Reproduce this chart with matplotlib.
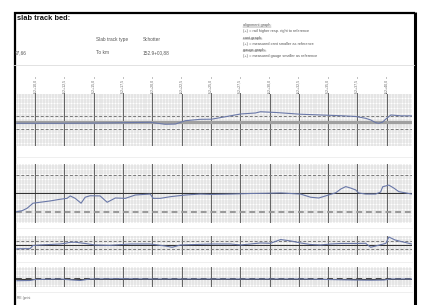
import matplotlib
matplotlib.use('Agg')
import matplotlib.pyplot as plt
from matplotlib.ticker import MultipleLocator

W, H = 422, 305
plt.rcParams['font.family'] = ['Liberation Sans', 'DejaVu Sans']

# ---------------- data ----------------
stations = list(range(13))
station_labels = ['152+10,0', '152+12,5', '152+15,0', '152+17,5', '152+20,0',
                  '152+22,5', '152+25,0', '152+27,5', '152+30,0', '152+32,5',
                  '152+35,0', '152+37,5', '152+40,0']

align_x = [-0.62, 0.85, 2.22, 3.93, 4.44, 4.79, 5.13, 5.64, 6.02, 6.5, 7.01, 7.52,
           7.69, 8.21, 9.06, 9.74, 10.43, 10.94, 11.28, 11.45, 11.62, 11.73, 11.86,
           11.97, 12.14, 12.48, 12.85]
align_y = [-0.8, -0.8, -0.6, 0.0, -1.6, -1.4, 1.3, 2.4, 2.5, 4.5, 6.7, 7.5,
           8.5, 7.9, 6.5, 5.9, 5.3, 4.7, 3.2, 1.9, -0.3, -0.8, 0.2,
           2.7, 5.9, 5.2, 5.2]

level_x = [-0.62, -0.44, -0.27, -0.07, 0.17, 0.51, 0.85, 1.09, 1.2, 1.37, 1.57, 1.71,
           1.88, 2.22, 2.46, 2.74, 3.08, 3.42, 3.93, 4.03, 4.27, 4.62, 5.13, 5.64,
           6.02, 6.67, 7.35, 7.86, 8.38, 9.06, 9.4, 9.68, 9.91, 10.26, 10.43, 10.6,
           10.77, 10.94, 11.04, 11.28, 11.62, 11.79, 11.86, 12.07, 12.24, 12.41,
           12.65, 12.85]
level_y = [-9.8, -9.3, -8.0, -5.3, -4.8, -4.1, -3.2, -2.7, -1.4, -2.7, -5.3, -2.1,
           -1.3, -1.4, -4.8, -2.5, -2.7, -0.9, -0.4, -2.7, -2.7, -1.8, -0.9, -0.4,
           -0.6, -0.4, -0.1, 0.0, 0.2, -0.4, -2.1, -2.5, -1.4, 0.3, 2.3, 3.6,
           2.8, 1.8, 0.2, -0.4, -0.4, 0.7, 3.5, 4.4, 2.8, 0.9,
           0.2, -0.4]

cant_x = [-0.62, -0.17, -0.07, 0.17, 0.85, 1.03, 1.2, 1.37, 1.71, 2.05, 2.56, 3.25,
          3.93, 4.44, 4.68, 4.96, 5.3, 6.02, 6.67, 7.01, 7.35, 7.69, 8.03, 8.38,
          8.72, 9.06, 9.4, 9.74, 10.09, 10.43, 10.94, 11.28, 11.45, 11.62, 11.97,
          12.07, 12.28, 12.48, 12.85]
cant_y = [-4.5, -4.3, -0.6, 0.0, 1.2, 2.0, 3.2, 3.3, 1.8, 0.0, -0.4, 1.2,
          1.2, -1.2, -2.7, 0.0, 0.4, 1.2, 1.2, 0.0, 1.2, 2.4, 2.0, 6.5,
          4.8, 2.4, 0.6, 0.0, 1.2, 1.8, 1.8, 2.0, -2.7, -1.2, 2.0,
          9.5, 6.0, 4.2, 1.2]

gauge_x = [-0.62, -0.17, 0.0, 0.85, 1.2, 1.54, 1.88, 2.91, 3.93, 6.02, 9.06, 10.9,
           11.45, 11.9, 12.14, 12.85]
gauge_y = [-1.7, -1.5, -0.5, 0.0, -0.8, -1.5, 0.0, 0.3, 0.0, 0.0, 0.0, -1.0,
           -1.2, -1.0, 0.0, 0.0]

bottom_note = 'RE (print'

# ---------------- figure ----------------
fig = plt.figure(figsize=(W / 100, H / 100), dpi=100)
fig.patch.set_facecolor('white')
bg = fig.add_axes([0, 0, 1, 1])
bg.set_xlim(0, W)
bg.set_ylim(H, 0)
bg.axis('off')

# border
bg.plot([14.5, 14.5], [12, 305], color='black', lw=1.6, solid_capstyle='butt')
bg.plot([14, 415], [12.5, 12.5], color='black', lw=1.6, solid_capstyle='butt')
bg.plot([414.8, 414.8], [12, 305], color='black', lw=2.2, solid_capstyle='butt')

# header texts
bg.text(17, 19.5, 'slab track bed:', fontsize=5.4, fontweight='bold', va='baseline', color='#111')
small = dict(fontsize=3.4, va='baseline', color='#555')
bg.text(96, 41, 'Slab track type', **small)
bg.text(143, 41, 'Schotter', **small)
bg.text(14.8, 54, '97,66', **small)
bg.text(96, 54, 'To km', **small)
bg.text(143, 54, '152.9+00,88', **small)

leg = dict(fontsize=2.8, va='baseline', color='#555')
heads = []
for yb, s, u in [(26, 'alignment graph:', True),
                 (32, '(+) = rail higher resp. right to reference', False),
                 (38.5, 'cant graph:', True),
                 (44.5, '(+) = measured cant smaller as reference', False),
                 (50.5, 'gauge graph:', True),
                 (56.5, '(+) = measured gauge smaller as reference', False)]:
    t = bg.text(243, yb, s, **leg)
    if u:
        heads.append((t, yb))

bg.plot([14, 414], [65, 65], color='#dddddd', lw=0.6)
for yy in [157, 228, 262, 292]:
    bg.plot([16, 412], [yy, yy], color='#ececec', lw=0.6)

bg.text(17, 299, bottom_note, fontsize=2.4, va='baseline', color='#666')

# station labels
for s, lab in zip(stations, station_labels):
    px = 35 + s * 29.25
    bg.text(px, 86.5, lab, rotation=90, fontsize=2.6, ha='center', va='center', color='#666')
    bg.plot([px, px], [76.5, 78], color='#999', lw=0.5)
    bg.plot([px, px], [92.5, 94.5], color='#666', lw=0.7)


def panel(y0, y1, ylim, ystep):
    ax = fig.add_axes([16 / W, 1 - y1 / H, (412 - 16) / W, (y1 - y0) / H])
    ax.set_xlim(-0.65, 12.86)
    ax.set_ylim(*ylim)
    ax.xaxis.set_major_locator(MultipleLocator(1))
    ax.xaxis.set_minor_locator(MultipleLocator(0.1))
    ax.yaxis.set_major_locator(MultipleLocator(ystep * 5))
    ax.yaxis.set_minor_locator(MultipleLocator(ystep))
    ax.tick_params(which='both', length=0, labelbottom=False, labelleft=False)
    ax.grid(which='both', color='#c4c4c4', lw=0.35)
    ax.set_axisbelow(True)
    for sp in ax.spines.values():
        sp.set_visible(False)
    for s in stations:
        ax.axvline(s, color='#666666', lw=0.75, zorder=2)
    return ax


line_col = '#6a78a8'
dash_col = '#7a7a7a'

# panel 1: alignment
ax1 = panel(94, 146, (-19.1, 22.8), 2.0)
ax1.axhline(0, color='#a0a0a0', lw=2.3, zorder=2)
for v in (-5, 5):
    ax1.axhline(v, color=dash_col, lw=0.7, dashes=(3, 2), zorder=3)
ax1.plot(align_x, align_y, color=line_col, lw=0.8, zorder=4)

# panel 2
ax2 = panel(164, 223, (-15.9, 15.7), 1.35)
ax2.axhline(0, color='#333333', lw=0.8, zorder=2)
ax2.axhline(10, color=dash_col, lw=0.7, dashes=(3, 2), zorder=3)
ax2.axhline(-10, color='#999999', lw=1.4, dashes=(3, 2), zorder=3)
ax2.plot(level_x, level_y, color=line_col, lw=0.8, zorder=4)

# panel 3: cant
ax3 = panel(236, 255, (-11.9, 10.7), 3.0)
ax3.axhline(0, color='#333333', lw=0.8, zorder=2)
for v in (-5, 5):
    ax3.axhline(v, color=dash_col, lw=0.7, dashes=(3, 2), zorder=3)
ax3.plot(cant_x, cant_y, color=line_col, lw=0.8, zorder=4)

# panel 4: gauge
ax4 = panel(267, 286.5, (-7.5, 12), 2.5)
ax4.axhline(0, color='#333333', lw=0.8, zorder=2)
ax4.axhline(0, color='#444444', lw=1.4, dashes=(3, 2), zorder=3)
ax4.plot(gauge_x, gauge_y, color=line_col, lw=0.8, zorder=4)

# underline headers
fig.canvas.draw()
r = fig.canvas.get_renderer()
inv = bg.transData.inverted()
for t, yb in heads:
    bb = t.get_window_extent(renderer=r)
    x0 = inv.transform((bb.x0, 0))[0]
    x1 = inv.transform((bb.x1, 0))[0]
    bg.plot([x0, x1], [yb + 0.8, yb + 0.8], color='#666', lw=0.35)

fig.savefig('out.png', dpi=100, facecolor='white')
